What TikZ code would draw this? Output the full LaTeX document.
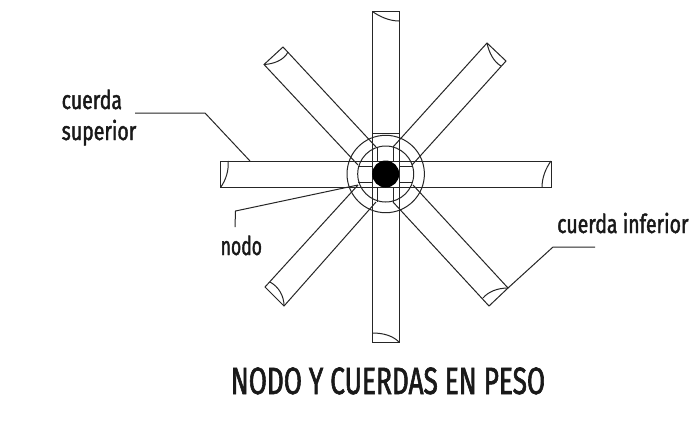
\documentclass[tikz,border=0pt]{standalone}
\usepackage{fontspec}
\setmainfont{Fira Sans}
\newfontfamily\lblfont[FakeStretch=0.75,FakeBold=1.6]{Fira Sans}
\newfontfamily\ttlfont[FakeStretch=0.69,FakeBold=1.6]{Fira Sans}
\begin{document}
\begin{tikzpicture}[x=1pt,y=-1pt,
  ln/.style={draw=black!85,line width=1pt,line join=miter},
  lbl/.style={inner sep=0pt,font=\lblfont\fontsize{26}{27}\selectfont,text=black!90,align=left},
  ttl/.style={inner sep=0pt,font=\ttlfont\fontsize{38}{44}\selectfont,text=black!90}]
\useasboundingbox (0,0) rectangle (692,424);
\fill[white] (0,0) rectangle (692,424);
% main bars
\draw[ln] (372.5,11.5) rectangle (399,342);
\draw[ln] (220,161) rectangle (551,187.5);
% diagonal bars
\draw[ln] (376,147) -- (283,47) -- (264,64.5) -- (358,165);
\draw[ln] (393,147) -- (487,43) -- (506,61) -- (412,165);
\draw[ln] (358,185) -- (265,287) -- (284,306) -- (376,202);
\draw[ln] (393,202) -- (489,306) -- (508,288) -- (413,185);
% end cuts
\draw[ln] (372.5,11.5) .. controls (380,17) and (390,21) .. (399,21);
\draw[ln] (372.5,333) .. controls (384,333) and (393,336) .. (399,342);
\draw[ln] (220.5,187.5) .. controls (226,180) and (229,170) .. (228,161);
\draw[ln] (542,187.5) .. controls (542,177) and (546,168) .. (551,161);
\draw[ln] (264,64.5) .. controls (274,64) and (284,60) .. (288,52);
\draw[ln] (487,43) .. controls (489,53) and (494,62) .. (501,66);
\draw[ln] (270,282) .. controls (279,287) and (284,296) .. (284,306);
\draw[ln] (483,298) .. controls (488,292) and (497,288) .. (508,288);
% node detail
\draw[ln] (385.7,174) circle[radius=38.7];
\draw[ln] (385.7,174) circle[radius=28];
\draw[ln] (372.5,133) -- (399,133);
\draw[ln] (377,147) -- (377,161) (393,147) -- (393,161);
\draw[ln] (377,187.5) -- (377,202) (393,187.5) -- (393,202);
\draw[ln] (358,166) -- (372.5,166) (358,182.5) -- (372.5,182.5);
\draw[ln] (399,166) -- (413,166) (399,182.5) -- (413,182.5);
\fill[black] (385.7,174) circle[radius=13.5];
% labels
\node[lbl,anchor=base west] (sup) at (61.5,109) {cuerda};
\node[lbl,anchor=base west] (sup2) at (61.5,140) {superior};
\node[lbl,anchor=base west] (nod) at (220.5,255) {\scalebox{0.9}[1]{nodo}};
\node[lbl,anchor=base west] (inf) at (557,233) {cuerda inferior};
\node[ttl,anchor=base] (title) at (388,394) {NODO Y CUERDAS EN PESO};
% leaders
\coordinate (a1) at (135,113); \coordinate (a2) at (205,113); \coordinate (a3) at (250,161);
\draw[ln] (a1) -- (a2) -- (a3);
\coordinate (b1) at (235,227); \coordinate (b2) at (235.5,211); \coordinate (b3) at (358,185);
\draw[ln] (b1) -- (b2) -- (b3);
\coordinate (c1) at (508,288); \coordinate (c2) at (553,247); \coordinate (c3) at (595,247);
\draw[ln] (c1) -- (c2) -- (c3);
\end{tikzpicture}
\end{document}
